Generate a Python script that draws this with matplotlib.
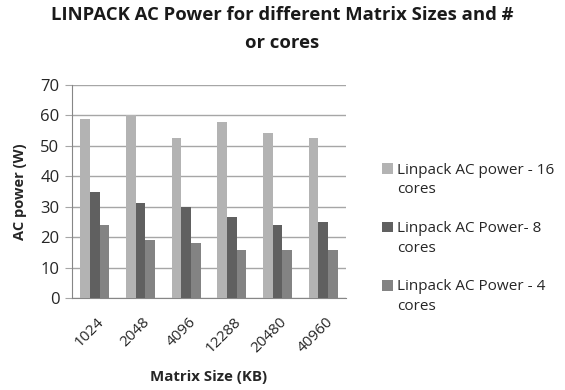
import matplotlib
matplotlib.use("Agg")
import matplotlib.pyplot as plt
import matplotlib.transforms as mtransforms
from matplotlib.patches import Rectangle
from matplotlib.container import BarContainer
from matplotlib.legend_handler import HandlerPatch, update_from_first_child
import numpy as np

plt.rcParams['font.family'] = ['Open Sans', 'DejaVu Sans']

matrix_sizes = ["1024", "2048", "4096", "12288", "20480", "40960"]
power_16 = [58.8, 60.1, 52.6, 57.7, 54.1, 52.6]
power_8 = [34.7, 31.1, 30.0, 26.5, 24.1, 24.9]
power_4 = [24.1, 19.1, 18.0, 15.8, 15.8, 15.8]
series_labels = ["Linpack AC power - 16\ncores",
                 "Linpack AC Power- 8\ncores",
                 "Linpack AC Power - 4\ncores"]
colors = ["#b3b3b3", "#606060", "#838383"]

fig = plt.figure(figsize=(5.65, 3.9), dpi=100)
ax = fig.add_axes([72/565, 1-298/390, 274/565, 213/390])

x = np.arange(len(matrix_sizes))
w = 0.213
for i, (vals, c, lab) in enumerate(zip([power_16, power_8, power_4], colors, series_labels)):
    ax.bar(x + (i-1)*w, vals, w, color=c, label=lab, zorder=3)

ax.set_xlim(-0.5, len(matrix_sizes)-0.5)
ax.set_ylim(0, 70)
ax.set_yticks(range(0, 71, 10))
ax.grid(axis='y', color='#a6a6a6', linewidth=1, zorder=0)
for s in ['top', 'right']:
    ax.spines[s].set_visible(False)
ax.spines['left'].set_color('#868686')
ax.spines['bottom'].set_color('#868686')
ax.tick_params(axis='y', length=5, color='#a6a6a6', labelsize=12, pad=4, labelcolor='#262626')
ax.tick_params(axis='x', length=0, labelsize=11, pad=12, labelcolor='#262626')
ax.set_xticks(x)
ax.set_xticklabels(matrix_sizes, rotation=45, ha='right', rotation_mode='anchor')
shift = mtransforms.ScaledTranslation(2/100, 0, fig.dpi_scale_trans)
for t in ax.get_xticklabels():
    t.set_transform(t.get_transform() + shift)

ax.set_ylabel("AC power (W)", fontweight='bold', fontsize=10.5, labelpad=9.6, color='#262626')
ax.set_xlabel("Matrix Size (KB)", fontweight='bold', fontsize=10.8, labelpad=10, color='#262626')

fig.text(0.5, 0.985, "LINPACK AC Power for different Matrix Sizes and #\nor cores",
         ha='center', va='top', fontsize=13.3, fontweight='bold', linespacing=1.72,
         color='#1a1a1a')


def first_line_square(legend, orig_handle, xdescent, ydescent, width, height, fontsize):
    # small square level with the first text line of a two-line label
    return Rectangle((-xdescent, -ydescent + 0.75 * fontsize), width, height)


square_handler = HandlerPatch(patch_func=first_line_square,
                              update_func=update_from_first_child)
leg = ax.legend(loc='center left', bbox_to_anchor=(304/274, 0.28), frameon=False,
                fontsize=11, handlelength=0.7, handleheight=0.7, handletextpad=0.25,
                labelspacing=1.55, borderaxespad=0,
                handler_map={BarContainer: square_handler})
for t in leg.get_texts():
    t.set_linespacing(1.42)
    t.set_color('#262626')

fig.savefig("out.png", dpi=100)
